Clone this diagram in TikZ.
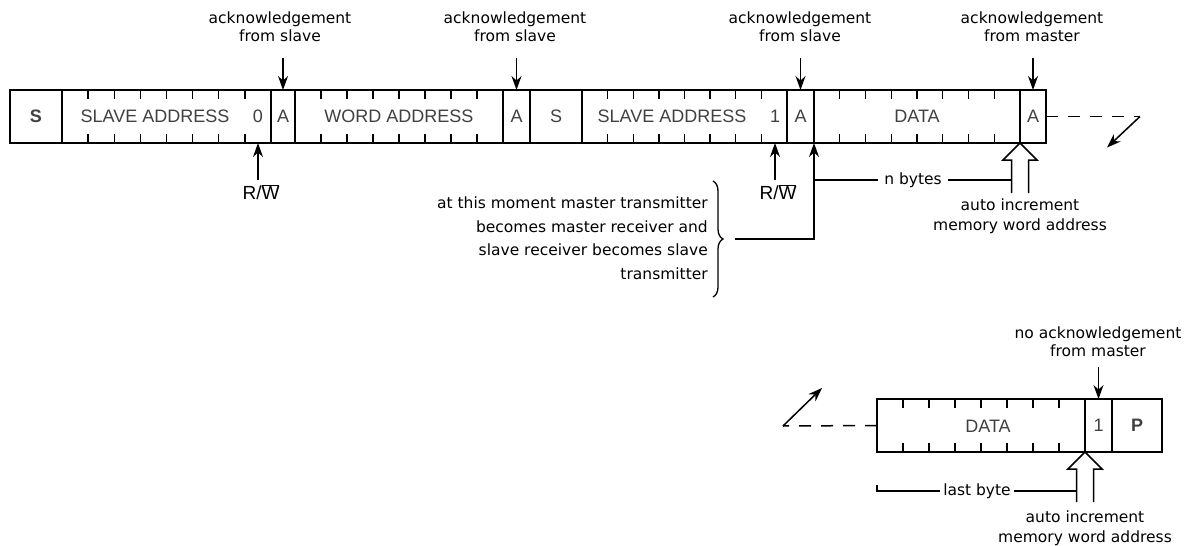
\documentclass[tikz,border=0pt]{standalone}
\usepackage{fontspec}
\setmainfont{DejaVu Sans}
\newfontfamily\cellfont{Liberation Sans}
\usetikzlibrary{arrows.meta,calc,decorations.pathreplacing}
\begin{document}
\begin{tikzpicture}[x=1pt,y=-1pt,
  cell/.style={draw, line width=1.9pt, minimum height=53pt, inner sep=0pt, outer sep=0pt, anchor=north west, text=black!75, font=\cellfont\fontsize{18}{21}\selectfont},
  ctext/.style={inner sep=0pt, text=black!75, font=\cellfont\fontsize{18}{21}\selectfont},
  lbl/.style={align=center, inner sep=0pt, font=\fontsize{15.5}{18}\selectfont},
  rwl/.style={inner sep=0pt, font=\cellfont\fontsize{19}{21}\selectfont},
  tick/.style={line width=1.3pt},
  line/.style={line width=1.5pt},
  arr/.style={line width=1.5pt, -{Stealth[length=14pt,width=10pt]}},
  dsh/.style={line width=1.5pt, dash pattern=on 12pt off 10pt},
  hollow/.style={line width=1.5pt, fill=white, line join=miter},
]
\useasboundingbox (0,0) rectangle (1192,546);

% ---------- top row ----------
\node[cell, minimum width=52pt] (s1) at (10,90) {\bfseries S};
\node[cell, minimum width=209pt] (sa1) at (62,90) {};
\node[cell, minimum width=24pt] (a1) at (271,90) {A};
\node[cell, minimum width=208pt] (wa) at (295,90) {WORD ADDRESS};
\node[cell, minimum width=27pt] (a2) at (503,90) {A};
\node[cell, minimum width=52pt] (s2) at (530,90) {S};
\node[cell, minimum width=205pt] (sa2) at (582,90) {};
\node[cell, minimum width=27pt] (a3) at (787,90) {A};
\node[cell, minimum width=206pt] (d1) at (814,90) {DATA};
\node[cell, minimum width=26pt] (a4) at (1020,90) {A};

\node[ctext] (sa1t) at (155,116.5) {SLAVE ADDRESS};
\node[ctext] (b0) at (258,116.5) {0};
\node[ctext] (sa2t) at (672,116.5) {SLAVE ADDRESS};
\node[ctext] (b1) at (775,116.5) {1};

% ---------- bottom row ----------
\node[cell, minimum width=208pt] (d2) at (877,399) {};
\node[cell, minimum width=27pt] (one) at (1085,399) {1};
\node[cell, minimum width=50pt] (p) at (1112,399) {\bfseries P};
\node[ctext] (d2t) at (988,426) {DATA};

% ticks
\foreach \n in {sa1,wa,sa2,d1,d2}{
  \foreach \k in {1,...,7}{
    \draw[tick] ($(\n.north west)!\k/8!(\n.north east)$) -- ++(0,9);
    \draw[tick] ($(\n.south west)!\k/8!(\n.south east)$) -- ++(0,-9);
  }
}

% ---------- acknowledgement labels ----------
\node[lbl] (k1) at (280,27) {acknowledgement\\from slave};
\node[lbl] (k2) at (515,27) {acknowledgement\\from slave};
\node[lbl] (k3) at (800,27) {acknowledgement\\from slave};
\node[lbl] (k4) at (1032,27) {acknowledgement\\from master};
\draw[arr] ([yshift=32pt]a1.north) -- (a1.north);
\draw[arr] ([yshift=32pt]a2.north) -- (a2.north);
\draw[arr] ([yshift=32pt]a3.north) -- (a3.north);
\draw[arr] ([yshift=32pt]a4.north) -- (a4.north);

% ---------- R/W ----------
\node[rwl] (rw1) at (261,192) {R/$\overline{\hbox{W}}$};
\node[rwl] (rw2) at (778,192) {R/$\overline{\hbox{W}}$};
\draw[arr] ([yshift=4pt]rw1.north -| b0.south) -- (b0 |- sa1.south);
\draw[arr] ([yshift=4pt]rw2.north -| b1.south) -- (b1 |- sa2.south);

% ---------- brace and note ----------
\node[lbl, align=right, anchor=east, font=\fontsize{15.5}{23.5}\selectfont] (mt) at (708,238)
  {at this moment master transmitter\\becomes master receiver and\\slave receiver becomes slave\\transmitter};
\draw[decorate, decoration={brace, amplitude=10pt}, line width=1.3pt] (713,181) -- (713,297);
\coordinate (bt) at (735,239);
\draw[arr] (bt) -| (a3.south east);

% ---------- n bytes + hollow arrow (top) ----------
\coordinate (T1) at (a4.south west);
\coordinate (h1l) at ([xshift=-8.5pt]T1);
\node[lbl] (nb) at (913,180) {n bytes};
\draw[line] (nb -| a3.east) -- ([xshift=-6pt]nb.west);
\draw[line] ([xshift=6pt]nb.east) -- (nb -| h1l);
\draw[hollow] ([shift={(-8.5,50)}]T1) -- ++(0,-33) -- ++(-8.5,0) -- (T1) -- ++(17,17) -- ++(-8.5,0) -- ++(0,33);
\node[lbl, font=\fontsize{15.5}{20}\selectfont] (ai1) at (1020,216) {auto increment\\memory word address};

% dashed continuation (top)
\coordinate (dc1) at (1140,116.5);
\draw[dsh] (a4.east) -- (dc1);
\draw[arr] (dc1) -- ++(-33,31);

% ---------- bottom annotations ----------
\node[lbl] (k5) at (1098,342) {no acknowledgement\\from master};
\draw[arr] ([yshift=32pt]one.north) -- (one.north);

\coordinate (dc2) at (783,426);
\draw[dsh] (d2.west) -- (dc2);
\draw[arr] (dc2) -- ++(39,-38);

\coordinate (T2) at (d2.south east);
\coordinate (h2l) at ([xshift=-8.5pt]T2);
\draw[hollow] ([shift={(-8.5,50)}]T2) -- ++(0,-33) -- ++(-8.5,0) -- (T2) -- ++(17,17) -- ++(-8.5,0) -- ++(0,33);
\node[lbl] (lb) at (977,491) {last byte};
\coordinate (lb0) at (877,485);
\draw[line] (lb0) |- ([xshift=-3pt]lb.west);
\draw[line] ([xshift=3pt]lb.east) -- (lb -| h2l);
\node[lbl, font=\fontsize{15.5}{20}\selectfont] (ai2) at (1085,528) {auto increment\\memory word address};
\end{tikzpicture}
\end{document}
